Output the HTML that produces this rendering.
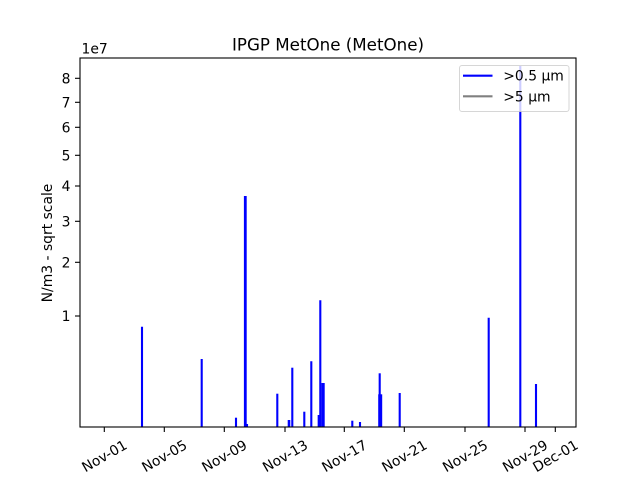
<!DOCTYPE html>
<html>
<head>
<meta charset="utf-8">
<style>
  html, body { margin: 0; padding: 0; background: #ffffff; }
  svg { display: block; }
  text { font-family: "DejaVu Sans", "Liberation Sans", sans-serif; fill: #000; }
</style>
</head>
<body>
<svg width="640" height="480" viewBox="0 0 640 480" xmlns="http://www.w3.org/2000/svg">
  <rect x="0" y="0" width="640" height="480" fill="#ffffff"/>

  <defs>
    <clipPath id="ax">
      <rect x="80" y="58" width="496" height="369"/>
    </clipPath>
  </defs>

  <!-- Data spikes -->
  <g clip-path="url(#ax)" stroke="#0000ff" stroke-width="2.1" fill="none">
    <line x1="142" y1="326.7" x2="142" y2="428"/>
    <line x1="201.7" y1="359" x2="201.7" y2="428"/>
    <line x1="236" y1="417.7" x2="236" y2="428"/>
    <line x1="245.3" y1="196" x2="245.3" y2="428" stroke-width="2.8"/>
    <line x1="247" y1="424" x2="247" y2="428"/>
    <line x1="277.3" y1="393.7" x2="277.3" y2="428"/>
    <line x1="289" y1="420" x2="289" y2="428" stroke-width="2.6"/>
    <line x1="292.3" y1="367.7" x2="292.3" y2="428"/>
    <line x1="304.3" y1="411.7" x2="304.3" y2="428"/>
    <line x1="311.3" y1="361.3" x2="311.3" y2="428"/>
    <line x1="318.7" y1="415" x2="318.7" y2="428"/>
    <line x1="320.3" y1="300.3" x2="320.3" y2="428"/>
    <line x1="323" y1="383" x2="323" y2="428" stroke-width="3.4"/>
    <line x1="352.3" y1="420.7" x2="352.3" y2="428"/>
    <line x1="360" y1="422" x2="360" y2="428"/>
    <line x1="379.7" y1="373.3" x2="379.7" y2="428"/>
    <line x1="380.2" y1="394.3" x2="380.2" y2="428" stroke-width="4"/>
    <line x1="399.7" y1="393" x2="399.7" y2="428"/>
    <line x1="488.7" y1="317.7" x2="488.7" y2="428"/>
    <line x1="520.3" y1="66" x2="520.3" y2="428"/>
    <line x1="536" y1="384" x2="536" y2="428"/>
  </g>

  <!-- Axes frame -->
  <rect x="80" y="58" width="496" height="369" fill="none" stroke="#000" stroke-width="1.1"/>

  <!-- Y ticks -->
  <g stroke="#000" stroke-width="1.1">
    <line x1="75" y1="78.3" x2="80" y2="78.3"/>
    <line x1="75" y1="102.3" x2="80" y2="102.3"/>
    <line x1="75" y1="127.3" x2="80" y2="127.3"/>
    <line x1="75" y1="155.3" x2="80" y2="155.3"/>
    <line x1="75" y1="186" x2="80" y2="186"/>
    <line x1="75" y1="221.3" x2="80" y2="221.3"/>
    <line x1="75" y1="262.3" x2="80" y2="262.3"/>
    <line x1="75" y1="316" x2="80" y2="316"/>
  </g>
  <g font-size="13.9" text-anchor="end">
    <text x="70.5" y="83.3">8</text>
    <text x="70.5" y="107.3">7</text>
    <text x="70.5" y="132.3">6</text>
    <text x="70.5" y="160.3">5</text>
    <text x="70.5" y="191">4</text>
    <text x="70.5" y="226.3">3</text>
    <text x="70.5" y="267.3">2</text>
    <text x="70.5" y="321">1</text>
  </g>
  <text x="81.5" y="53.5" font-size="13.9">1e7</text>

  <!-- X ticks -->
  <g stroke="#000" stroke-width="1.1">
    <line x1="104.3" y1="427" x2="104.3" y2="432"/>
    <line x1="164.3" y1="427" x2="164.3" y2="432"/>
    <line x1="224.3" y1="427" x2="224.3" y2="432"/>
    <line x1="285" y1="427" x2="285" y2="432"/>
    <line x1="344.3" y1="427" x2="344.3" y2="432"/>
    <line x1="404.3" y1="427" x2="404.3" y2="432"/>
    <line x1="465" y1="427" x2="465" y2="432"/>
    <line x1="525" y1="427" x2="525" y2="432"/>
    <line x1="555.3" y1="427" x2="555.3" y2="432"/>
  </g>
  <g font-size="13.9" text-anchor="middle">
    <text transform="translate(104.3,455.8) rotate(-30)" y="5">Nov-01</text>
    <text transform="translate(164.3,455.8) rotate(-30)" y="5">Nov-05</text>
    <text transform="translate(224.3,455.8) rotate(-30)" y="5">Nov-09</text>
    <text transform="translate(285,455.8) rotate(-30)" y="5">Nov-13</text>
    <text transform="translate(344.3,455.8) rotate(-30)" y="5">Nov-17</text>
    <text transform="translate(404.3,455.8) rotate(-30)" y="5">Nov-21</text>
    <text transform="translate(465,455.8) rotate(-30)" y="5">Nov-25</text>
    <text transform="translate(525,455.8) rotate(-30)" y="5">Nov-29</text>
    <text transform="translate(555.3,455.8) rotate(-30)" y="5">Dec-01</text>
  </g>

  <!-- Y label -->
  <text transform="translate(51.8,243) rotate(-90)" font-size="13.9" text-anchor="middle">N/m3 - sqrt scale</text>

  <!-- Title -->
  <text x="328" y="50.5" font-size="16.7" text-anchor="middle">IPGP MetOne (MetOne)</text>

  <!-- Legend -->
  <rect x="459.5" y="65.5" width="109.5" height="46" rx="2.5" ry="2.5" fill="#ffffff" fill-opacity="0.8" stroke="#cccccc" stroke-opacity="0.8" stroke-width="1"/>
  <line x1="463" y1="75.7" x2="492.5" y2="75.7" stroke="#0000ff" stroke-width="2.1"/>
  <line x1="463" y1="96.3" x2="492.5" y2="96.3" stroke="#808080" stroke-width="2.1"/>
  <text x="503.3" y="80.7" font-size="13.9">&gt;0.5 µm</text>
  <text x="503.3" y="101.3" font-size="13.9">&gt;5 µm</text>
</svg>
</body>
</html>
